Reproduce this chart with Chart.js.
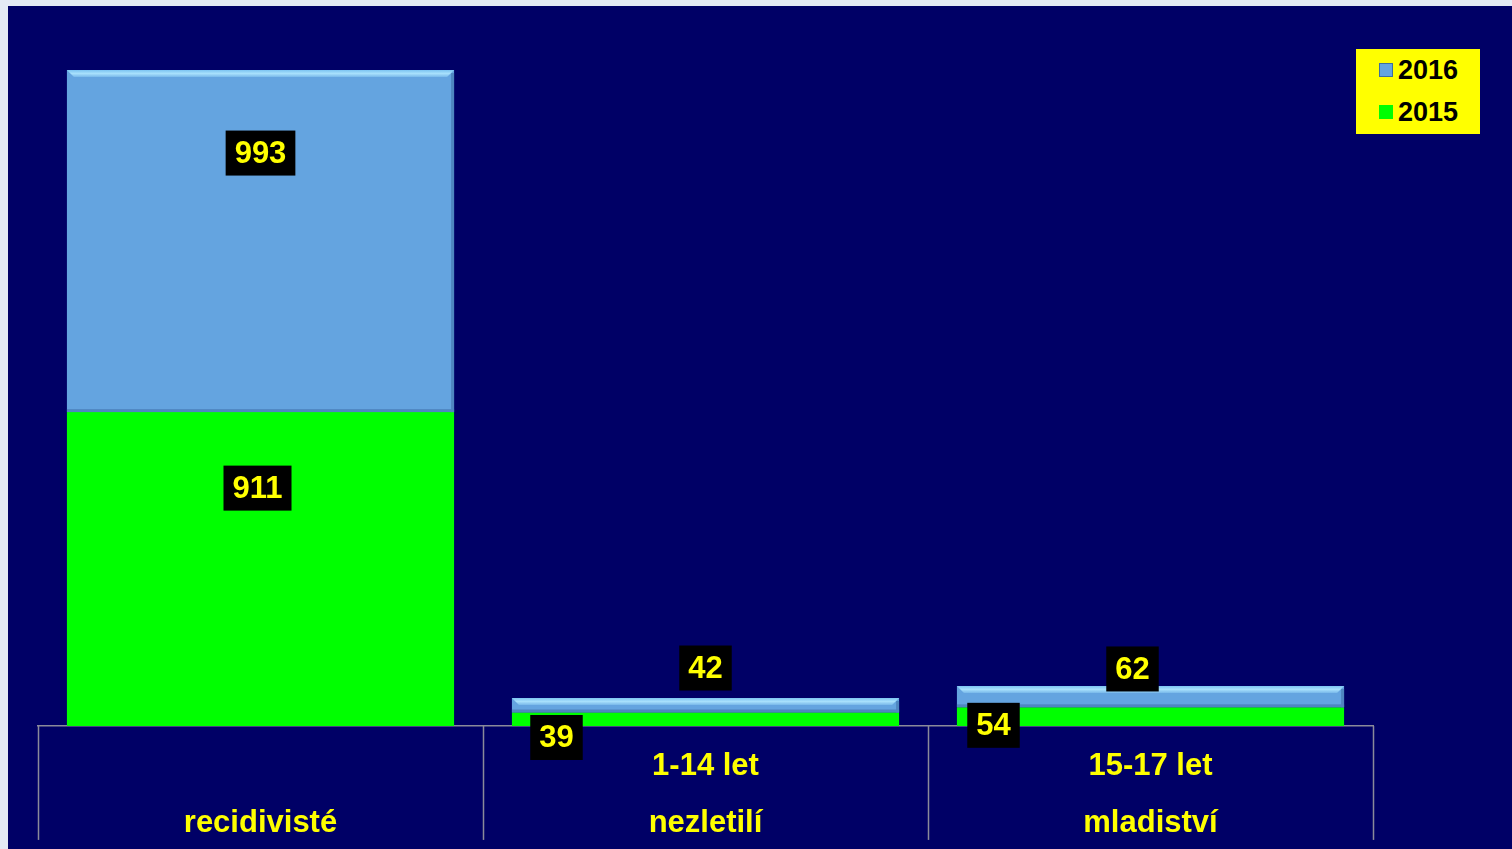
<!DOCTYPE html>
<html>
<head>
<meta charset="utf-8">
<script src="https://cdn.jsdelivr.net/npm/chart.js@4/dist/chart.umd.min.js"></script>
<style>
  html,body{margin:0;padding:0;}
  body{width:1512px;height:849px;background:#e4eaf4;position:relative;overflow:hidden;font-family:"Liberation Sans",Arial,sans-serif;}
  #panel{position:absolute;left:8px;top:6px;width:1504px;height:843px;background:#000066;}
  #legenda{position:absolute;left:1348px;top:43px;width:124px;height:85px;background:#ffff00;}
  .item{position:absolute;left:23px;font-weight:bold;font-size:27px;color:#000;line-height:30px;}
  .item span{display:inline-block;width:14px;height:14px;margin-right:5px;vertical-align:2px;}
</style>
</head>
<body>
<div id="panel">
  <canvas id="grafico"></canvas>
  <div id="legenda"></div>
</div>
<script>
// ===== DADOS =====
const categorias = [["", "recidivisté"], ["1-14 let", "nezletilí"], ["15-17 let", "mladiství"]];
const anos = ["2015", "2016"];
const valores2015 = [911, 39, 54];
const valores2016 = [993, 42, 62];

const cores = { "2015": "#00ff00", "2016": "#64a4e0" };

// deslocamento dos rótulos em relação ao topo de cada barra [dx, dy]
const deslocRotulos = [
  [[-3, 76], [-149, 25], [-157, 18]],
  [[0, 83], [0, -30], [-18, -17]]
];

const rotulosPlugin = {
  id: "rotulos",
  afterDatasetsDraw(chart){
    const ctx = chart.ctx;
    ctx.save();
    ctx.font = "bold 31px 'Liberation Sans', Arial";
    ctx.textAlign = "center";
    ctx.textBaseline = "middle";
    chart.data.datasets.forEach((ds, d) => {
      chart.getDatasetMeta(d).data.forEach((el, i) => {
        const off = deslocRotulos[d][i];
        const x = el.x + off[0];
        const y = el.y + off[1];
        const txt = String(ds.data[i]);
        const w = ctx.measureText(txt).width + 18;
        const h = 45;
        ctx.fillStyle = "#000";
        ctx.fillRect(x - w/2, y - h/2, w, h);
        ctx.fillStyle = "#ffff00";
        ctx.fillText(txt, x, y + 1);
      });
    });
    ctx.restore();
  }
};

const separadoresPlugin = {
  id: "separadores",
  afterDraw(chart){
    const ctx = chart.ctx;
    const xs = chart.scales.x;
    const area = chart.chartArea;
    const passo = xs.getPixelForValue(1) - xs.getPixelForValue(0);
    ctx.save();
    ctx.strokeStyle = "#8a8a9a";
    ctx.lineWidth = 1.5;
    for(let i = 0; i <= categorias.length; i++){
      const x = Math.round(xs.getPixelForValue(0) - passo/2 + i*passo) + 0.5;
      ctx.beginPath();
      ctx.moveTo(x, area.bottom);
      ctx.lineTo(x, area.bottom + 114);
      ctx.stroke();
    }
    ctx.restore();
  }
};

// brilho no topo das barras de 2016
const biselPlugin = {
  id: "bisel",
  afterDatasetsDraw(chart){
    const ctx = chart.ctx;
    const meta = chart.getDatasetMeta(1);
    ctx.save();
    meta.data.forEach(el => {
      const l = el.x - el.width/2, r = el.x + el.width/2, t = el.y, b = el.base;
      const g = ctx.createLinearGradient(0, t, 0, t + 7);
      g.addColorStop(0, "#7cc4f2");
      g.addColorStop(0.5, "#a8e0fc");
      g.addColorStop(1, "#78b8ea");
      ctx.fillStyle = g;
      ctx.beginPath();
      ctx.moveTo(l, t); ctx.lineTo(r, t); ctx.lineTo(r - 7, t + 7); ctx.lineTo(l + 7, t + 7);
      ctx.closePath(); ctx.fill();
      ctx.fillStyle = "#4f86c0";
      ctx.fillRect(r - 3, t + 3, 3, b - t - 3);
      ctx.fillRect(l, b - 3, r - l, 3);
    });
    ctx.restore();
  }
};

new Chart(document.getElementById("grafico"), {
  type: "bar",
  data: {
    labels: categorias,
    datasets: anos.map((a, k) => ({
      label: a,
      data: k === 0 ? valores2015 : valores2016,
      backgroundColor: cores[a],
      barPercentage: 0.87,
      categoryPercentage: 1,
      borderWidth: 0
    }))
  },
  options: {
    responsive: true,
    maintainAspectRatio: false,
    animation: false,
    layout: { padding: { left: 30, right: 139, top: 31, bottom: -7 } },
    plugins: { legend: { display: false }, tooltip: { enabled: false } },
    scales: {
      x: {
        stacked: true,
        grid: { display: false },
        border: { display: true, color: "#8a8a9a", width: 1.5 },
        ticks: {
          color: "#ffff00",
          padding: 4,
          maxRotation: 0,
          font: { family: "'Liberation Sans', Arial", weight: "bold", size: 31, lineHeight: 1.84 }
        }
      },
      y: { stacked: true, display: false, min: 0, max: 2000 }
    }
  },
  plugins: [biselPlugin, rotulosPlugin, separadoresPlugin]
});

// ===== LEGENDA =====
document.getElementById("legenda").innerHTML = anos.slice().reverse().map((a, k) => `
  <div class="item" style="top:${k === 0 ? 6 : 48}px">
    <span style="background:${cores[a]};${a === '2016' ? 'border:1px solid #3d6f9f;width:12px;height:12px;' : ''}"></span>${a}
  </div>
`).join("");
</script>
</body>
</html>
